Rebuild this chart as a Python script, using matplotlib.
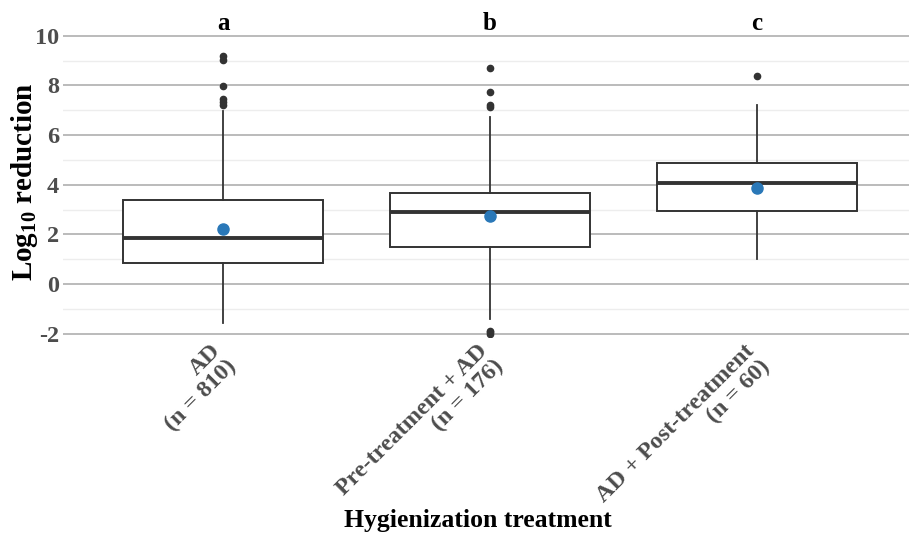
import matplotlib
matplotlib.use("Agg")
import matplotlib.pyplot as plt
import numpy as np

# ---- data ----
categories = ["AD\n(n = 810)", "Pre-treatment + AD\n(n = 176)", "AD + Post-treatment\n(n = 60)"]
group_letters = ["a", "b", "c"]
q1_vals = [0.86, 1.51, 2.93]
median_vals = [1.87, 2.89, 4.06]
q3_vals = [3.39, 3.68, 4.87]
whisker_low = [-1.58, -1.43, 1.01]
whisker_high = [6.98, 6.72, 7.22]
mean_vals = [2.20, 2.73, 3.88]
outliers_ad = [9.19, 9.02, 7.97, 7.46, 7.35, 7.22]
outliers_pre = [8.72, 7.73, 7.23, 7.12, -1.89, -1.95, -2.00]
outliers_post = [8.40]
yticks = [-2, 0, 2, 4, 6, 8, 10]
xlabel = "Hygienization treatment"

# ---- style ----
plt.rcParams['font.family'] = ['Liberation Serif', 'DejaVu Serif']
plt.rcParams['mathtext.fontset'] = 'custom'
plt.rcParams['mathtext.rm'] = 'Liberation Serif'
plt.rcParams['mathtext.bf'] = 'Liberation Serif:bold'
W, H = 909, 542
fig = plt.figure(figsize=(W / 100, H / 100), dpi=100)
ax = fig.add_axes([63 / W, (H - 336.6) / H, 854 / W, (336.6 - 16) / H])

positions = [1, 2, 3]
outliers = [outliers_ad, outliers_pre, outliers_post]
stats = []
for i in range(len(categories)):
    stats.append(dict(med=median_vals[i], q1=q1_vals[i], q3=q3_vals[i],
                      whislo=whisker_low[i], whishi=whisker_high[i],
                      fliers=outliers[i], mean=mean_vals[i], label=categories[i]))

dark = "#333333"
ax.bxp(stats, positions=positions, widths=0.75, showmeans=True, showcaps=False,
       patch_artist=True,
       boxprops=dict(facecolor="white", edgecolor=dark, linewidth=1.4),
       medianprops=dict(color=dark, linewidth=2.8),
       whiskerprops=dict(color=dark, linewidth=1.3),
       flierprops=dict(marker="o", markersize=4.5, markerfacecolor=dark,
                       markeredgecolor=dark, linestyle="none"),
       meanprops=dict(marker="o", markersize=8, markerfacecolor="#2a78b8",
                      markeredgecolor="#2a78b8"),
       zorder=3)

ax.set_xlim(0.4, 3.6)
ax.set_ylim(-2.12, 10.8)
ax.set_yticks(yticks)
ax.set_yticklabels([str(v) for v in yticks])
ax.set_yticks(np.arange(-1, 11, 2), minor=True)
ax.grid(axis="y", which="major", color="#b5b5b5", linewidth=1.3, zorder=0)
ax.grid(axis="y", which="minor", color="#ededed", linewidth=1.0, zorder=0)
ax.grid(axis="x", visible=False)
ax.set_axisbelow(True)
for s in ax.spines.values():
    s.set_visible(False)
ax.tick_params(axis="both", which="both", length=0)
ax.tick_params(axis="y", pad=3, labelsize=17.5, labelcolor="#4d4d4d")
for t in ax.get_yticklabels():
    t.set_fontweight("bold")

# x tick labels as rotated annotations
ax.set_xticks(positions)
ax.set_xticklabels([])
for p, lab in zip(positions, categories):
    ax.annotate(lab, xy=(p, 0), xycoords=ax.get_xaxis_transform(),
                xytext=(-13, -4), textcoords="offset pixels",
                rotation=45, ha="right", va="top", rotation_mode="anchor",
                multialignment="right", fontsize=17.3, fontweight="bold",
                color="#4d4d4d", annotation_clip=False, linespacing=1.05)

# group letters
for p, let in zip(positions, group_letters):
    ax.text(p, 10.5, let, ha="center", va="center", fontsize=18,
            fontweight="bold", color="black", clip_on=False)

ax.set_ylabel(r"Log$_{\mathbf{10}}$ reduction", fontsize=21, fontweight="bold",
              color="black")
ax.yaxis.label.set_va("center")
ax.yaxis.set_label_coords((25 - 63) / 854, (336.6 - 182) / 320.6)
fig.text(478 / W, 1 - 520 / H, xlabel, ha="center", va="center",
         fontsize=18.5, fontweight="bold", color="black")

fig.savefig("out.png", dpi=100)
